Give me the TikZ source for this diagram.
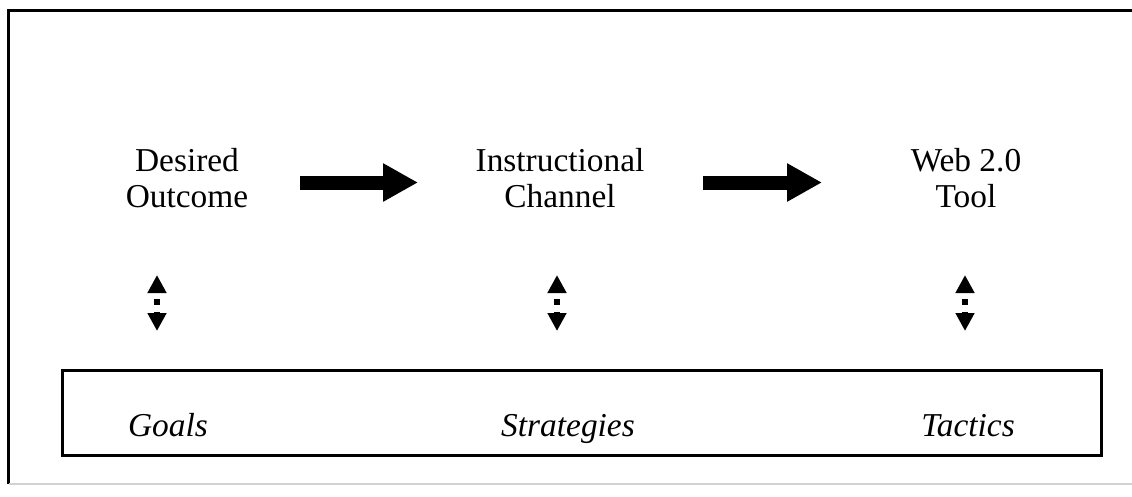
\documentclass[tikz,border=0pt]{standalone}
\usepackage{fontspec}
\setmainfont{Liberation Serif}
\usetikzlibrary{positioning,arrows.meta}
\tikzset{
  lbl/.style={align=center, font=\fontsize{19}{20}\selectfont, inner sep=2pt},
  itl/.style={anchor=base, font=\fontsize{19}{20}\selectfont\itshape, inner sep=2pt},
  bigflow/.style={-{Triangle[length=0.7cm,width=0.72cm]}, line width=0.28cm},
  dflow/.style={{Triangle[length=0.36cm,width=0.36cm]}-{Triangle[length=0.36cm,width=0.36cm]},
                line width=0.12cm, dash pattern=on 0.12cm off 0.14cm, dash phase=0.12cm},
  frame/.style={line width=0.06cm},
}
\begin{document}
\begin{tikzpicture}[node distance=1cm, on grid]
  \useasboundingbox (0,0) rectangle (22.64,-9.92);
  % --- outer frame (left, top, faint bottom) ---
  \draw[frame] (22.64,-0.2) -- (0.18,-0.2) -- (0.18,-9.68);
  \draw[gray!35, line width=0.03cm] (0.18,-9.68) -- (22.64,-9.68);

  % --- top row ---
  \node[lbl] (outcome) at (3.74,-3.56) {Desired\\Outcome};
  \node[lbl,right=7.46cm of outcome] (channel) {Instructional\\Channel};
  \node[lbl,right=8.12cm of channel] (tool) {Web 2.0\\Tool};

  \coordinate (a1) at (6.00,-3.65);  \coordinate (a2) at (8.36,-3.65);
  \coordinate (b1) at (14.06,-3.65); \coordinate (b2) at (16.44,-3.65);
  \draw[bigflow] (a1) -- (a2);
  \draw[bigflow] (b1) -- (b2);

  % --- up/down links ---
  \coordinate (u1) at (3.14,-5.5);  \coordinate (d1) at (3.14,-6.62);
  \coordinate (u2) at (11.14,-5.5); \coordinate (d2) at (11.14,-6.62);
  \coordinate (u3) at (19.30,-5.5); \coordinate (d3) at (19.30,-6.62);
  \foreach \i in {1,2,3}
    \draw[dflow] (u\i) -- (d\i);

  % --- bottom box ---
  \node[draw, frame, minimum width=20.78cm, minimum height=1.7cm] (box) at (11.63,-8.25) {};
  \node[itl] (goals) at (3.36,-8.72) {Goals};
  \node[itl] (strat) at (11.36,-8.72) {Strategies};
  \node[itl] (tact)  at (19.36,-8.72) {Tactics};
\end{tikzpicture}
\end{document}
